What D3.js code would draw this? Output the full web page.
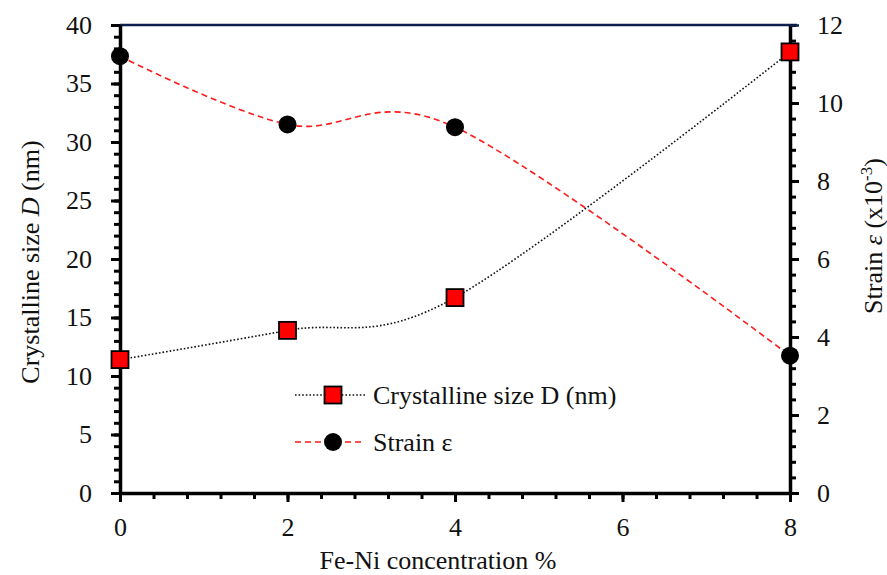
<!DOCTYPE html>
<html><head><meta charset="utf-8"><script src="https://cdn.jsdelivr.net/npm/d3@7"></script></head>
<body style="margin:0">
<svg id="s" width="887" height="575"></svg>
<script>
// Fe-Ni concentration (%)
const concentration = [0, 2, 4, 8];
// Crystalline size D (nm), left axis
const crystalSize = [11.4, 13.9, 16.7, 37.7];
// Strain (x10^-3), right axis
const strain = [11.2, 9.45, 9.38, 3.52];

const xTicks = [0, 2, 4, 6, 8];
const leftTicks = [0, 5, 10, 15, 20, 25, 30, 35, 40];
const rightTicks = [0, 2, 4, 6, 8, 10, 12];

const width = 887, height = 575;
const margin = {top: 25, right: 97, bottom: 82, left: 120};
const FONT = '"Liberation Serif", monospace';
const fs = 26;

const s = d3.select("#s");

const x = d3.scaleLinear().domain([0, 8]).range([margin.left, width - margin.right]);
const yL = d3.scaleLinear().domain([0, 40]).range([height - margin.bottom, margin.top]);
const yR = d3.scaleLinear().domain([0, 12]).range([height - margin.bottom, margin.top]);

function minorTicks(scale, step) {
  const [a, b] = scale.domain();
  const out = [];
  for (let v = a; v <= b + 1e-9; v += step) out.push(+v.toFixed(4));
  return out;
}

// every label is a text with tspans, serif set on both
function txt(parent, x0, y0, parts, size) {
  const t = parent.append("text").attr("x", x0).attr("y", y0)
    .attr("font-family", "Liberation Serif")
    .attr("font-size", size || fs).attr("fill", "#111")
    .style("font-family", FONT);
  (parts || []).forEach(p => {
    const sp = t.append("tspan").style("font-family", FONT).text(p.t);
    if (p.italic) sp.attr("font-style", "italic");
    if (p.size) sp.attr("font-size", p.size);
    if (p.dy) sp.attr("dy", p.dy);
  });
  return t;
}

// top border
s.append("line")
  .attr("x1", x(0)).attr("x2", x(8) + 7)
  .attr("y1", yL(40)).attr("y2", yL(40))
  .attr("stroke", "#0d1f4f").attr("stroke-width", 2.5);

// minor ticks
const gL = s.append("g").attr("transform", `translate(${x(0)},0)`)
  .call(d3.axisLeft(yL).tickValues(minorTicks(yL, 1)).tickSize(6).tickFormat(""));
const gR = s.append("g").attr("transform", `translate(${x(8)},0)`)
  .call(d3.axisRight(yR).tickValues(minorTicks(yR, 0.4)).tickSize(6).tickFormat(""));
const gB = s.append("g").attr("transform", `translate(0,${yL(0)})`)
  .call(d3.axisBottom(x).tickValues(minorTicks(x, 0.4)).tickSize(6).tickFormat(""));
[gL, gR, gB].forEach(g => g.select(".domain").remove());

// major ticks with labels
const gLM = s.append("g").attr("transform", `translate(${x(0)},0)`)
  .call(d3.axisLeft(yL).tickValues(leftTicks).tickSize(9).tickPadding(19).tickSizeOuter(0));
const gRM = s.append("g").attr("transform", `translate(${x(8)},0)`)
  .call(d3.axisRight(yR).tickValues(rightTicks).tickSize(9).tickPadding(18).tickSizeOuter(0));
const gBM = s.append("g").attr("transform", `translate(0,${yL(0)})`)
  .call(d3.axisBottom(x).tickValues(xTicks).tickSize(9).tickPadding(16).tickSizeOuter(0));

[gL, gR, gB, gLM, gRM, gBM].forEach(g => {
  g.attr("font-family", "Liberation Serif").attr("font-size", fs);
  g.selectAll("line").attr("stroke", "#000").attr("stroke-width", 3);
  g.selectAll("path.domain").attr("stroke", "#000").attr("stroke-width", 3.5);
  g.selectAll("text").each(function () {
    const t = d3.select(this);
    const label = t.text();
    t.text(null).attr("font-size", fs).attr("fill", "#111").style("font-family", FONT);
    t.append("tspan").style("font-family", FONT).text(label);
  });
});
gRM.selectAll(".tick").filter(d => d === 12).select("line")
  .attr("stroke", "#0d1f4f").attr("stroke-width", 2.5);

// curves
const curve = d3.curveCardinal.tension(0);
const pts = concentration.map((c, i) => ({c, d: crystalSize[i], s: strain[i]}));

s.append("path").datum(pts)
  .attr("d", d3.line().x(p => x(p.c)).y(p => yR(p.s)).curve(curve))
  .attr("fill", "none").attr("stroke", "#ff1a1a").attr("stroke-width", 1.6)
  .attr("stroke-dasharray", "6,4");

s.append("path").datum(pts)
  .attr("d", d3.line().x(p => x(p.c)).y(p => yL(p.d)).curve(curve))
  .attr("fill", "none").attr("stroke", "#111").attr("stroke-width", 1.6)
  .attr("stroke-dasharray", "1.6,2");

const sq = 17;
s.append("g").selectAll("rect").data(pts).join("rect")
  .attr("x", p => x(p.c) - sq / 2).attr("y", p => yL(p.d) - sq / 2)
  .attr("width", sq).attr("height", sq)
  .attr("fill", "#ff0000").attr("stroke", "#000").attr("stroke-width", 1.8);

s.append("g").selectAll("circle").data(pts).join("circle")
  .attr("cx", p => x(p.c)).attr("cy", p => yR(p.s)).attr("r", 9)
  .attr("fill", "#000");

// legend
const legend = s.append("g").attr("font-family", "Liberation Serif");
const lx0 = 295, lx1 = 365, lm = 333;
legend.append("line").attr("x1", lx0).attr("x2", lx1).attr("y1", 395).attr("y2", 395)
  .attr("stroke", "#111").attr("stroke-width", 1.6).attr("stroke-dasharray", "1.6,2");
legend.append("rect").attr("x", lm - sq / 2).attr("y", 395 - sq / 2).attr("width", sq).attr("height", sq)
  .attr("fill", "#ff0000").attr("stroke", "#000").attr("stroke-width", 1.8);
txt(legend, 373, 404, [{t: "Crystalline size D (nm)"}]);

legend.append("line").attr("x1", lx0).attr("x2", lx1).attr("y1", 442).attr("y2", 442)
  .attr("stroke", "#ff1a1a").attr("stroke-width", 1.6).attr("stroke-dasharray", "6,4");
legend.append("circle").attr("cx", lm).attr("cy", 442).attr("r", 9).attr("fill", "#000");
txt(legend, 373, 451, [{t: "Strain ε"}]);

// axis titles
const titles = s.append("g").attr("font-family", "Liberation Serif");
txt(titles, 438, 569, [{t: "Fe-Ni concentration %"}]).attr("text-anchor", "middle");

txt(titles, 0, 0, [
  {t: "Crystalline size "}, {t: "D", italic: true}, {t: " (nm)"}
]).attr("transform", "translate(39,262) rotate(-90)").attr("text-anchor", "middle");

txt(titles, 0, 0, [
  {t: "Strain "}, {t: "ε", italic: true}, {t: " (x10"},
  {t: "-3", size: 17, dy: -10}, {t: ")", dy: 10}
]).attr("transform", "translate(882,236) rotate(-90)").attr("text-anchor", "middle");
</script></body></html>
